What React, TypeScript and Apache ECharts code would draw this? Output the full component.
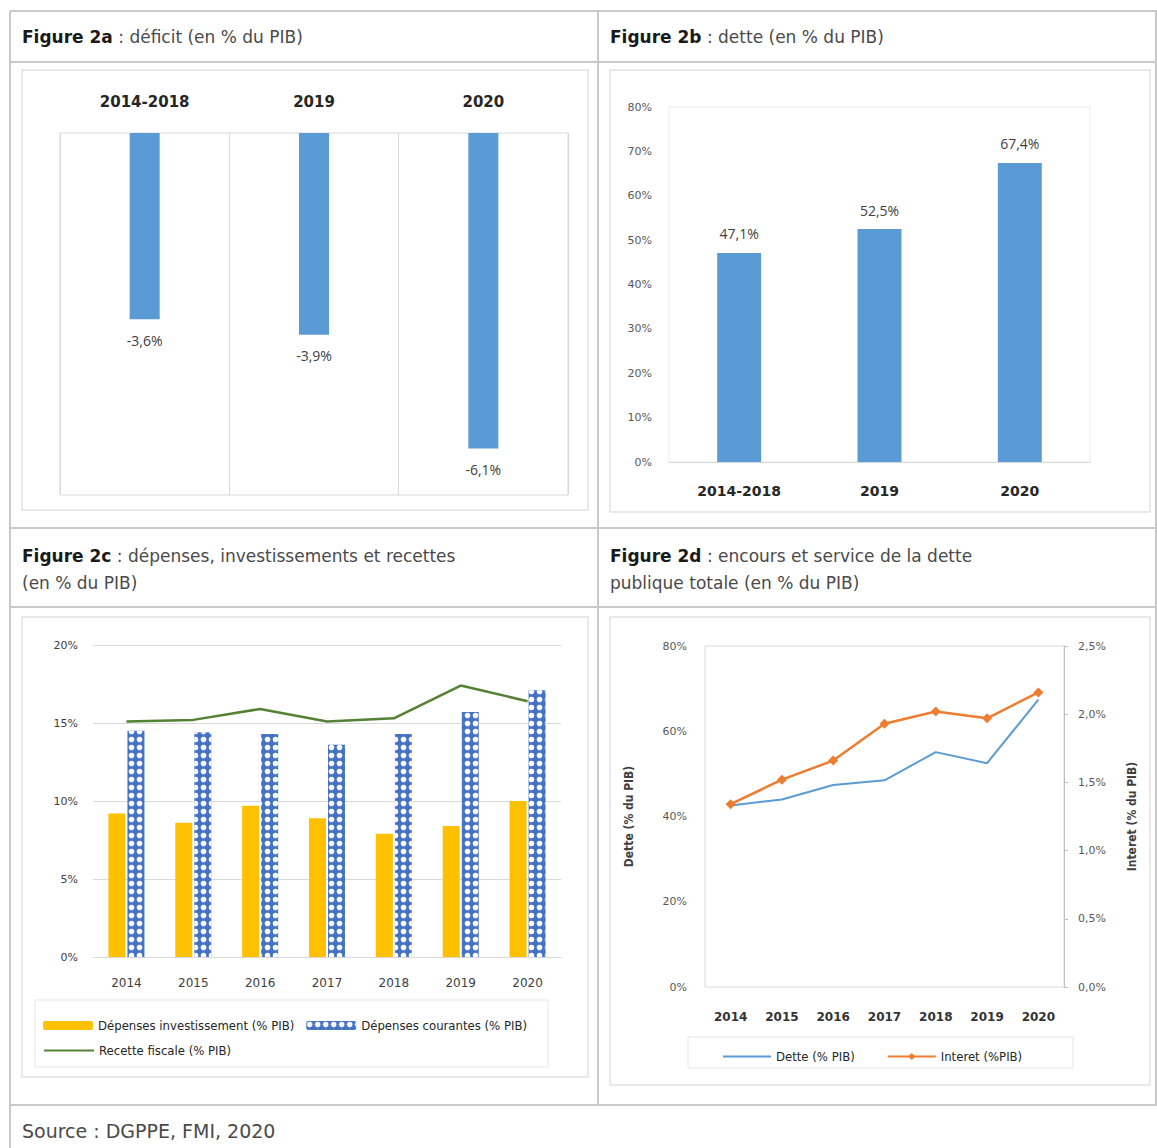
import React, { useEffect, useRef } from "react";
import * as echarts from "echarts";

// ---- Data ----
const deficitCats = ["2014-2018", "2019", "2020"];
const deficitVals = [-3.6, -3.9, -6.1];

const detteCats = ["2014-2018", "2019", "2020"];
const detteVals = [47.1, 52.5, 67.4];

const years = ["2014", "2015", "2016", "2017", "2018", "2019", "2020"];
const depInvest = [9.2, 8.6, 9.7, 8.9, 7.9, 8.4, 10.0];
const depCourantes = [14.5, 14.4, 14.3, 13.6, 14.3, 15.7, 17.1];
const recetteFiscale = [15.1, 15.2, 15.9, 15.1, 15.3, 17.4, 16.4];

const detteSeries = [42.6, 44.0, 47.4, 48.5, 55.1, 52.5, 67.4];
const interetSeries = [1.34, 1.52, 1.66, 1.93, 2.02, 1.97, 2.16];

const yTicks2b = [0, 80, 10];
const yTicks2c = [0, 20, 5];
const yTicks2dL = [0, 80, 20];
const yTicks2dR = [0, 2.5, 0.5];

const SERIES_INV = "Dépenses investissement (% PIB)";
const SERIES_COUR = "Dépenses courantes (% PIB)";
const SERIES_REC = "Recette fiscale (% PIB)";
const SERIES_DETTE = "Dette (% PIB)";
const SERIES_INT = "Interet (%PIB)";

const TITLE_FONT = "'DejaVu Sans', sans-serif";
const NUM_FONT = "'Open Sans', 'Liberation Sans', sans-serif";
const NARROW_FONT = "'Liberation Sans Narrow', 'DejaVu Sans Condensed', 'Liberation Sans', sans-serif";

const comma = (v: number, d: number) => v.toFixed(d).replace(".", ",");

export default function App() {
  const ref = useRef<HTMLDivElement>(null);
  useEffect(() => {
    if (!ref.current) return;
    const chart = echarts.init(ref.current, undefined, { renderer: "svg" });
    const frame = "#c9c9c9";
    const inner = "#e2e2e2";
    const line = (x1: number, y1: number, x2: number, y2: number, c = frame, w = 2) => ({
      type: "line",
      silent: true,
      shape: { x1, y1, x2, y2 },
      style: { stroke: c, lineWidth: w },
    });
    const rect = (x: number, y: number, width: number, height: number, c = inner, w = 1.5) => ({
      type: "rect",
      silent: true,
      shape: { x, y, width, height },
      style: { fill: "none", stroke: c, lineWidth: w },
    });
    const title = (x: number, y: number, bold: string, rest: string) => ({
      type: "text",
      x,
      y,
      style: {
        text: `{b|${bold}}{r|${rest}}`,
        rich: {
          b: { fontFamily: TITLE_FONT, fontWeight: "bold", fontSize: 17, fill: "#1a1a1a" },
          r: { fontFamily: TITLE_FONT, fontSize: 17, fill: "#4a4a4a" },
        },
        verticalAlign: "middle",
      },
    });
    const plainText = (x: number, y: number, text: string, size = 17) => ({
      type: "text",
      x,
      y,
      style: { text, fontFamily: TITLE_FONT, fontSize: size, fill: "#4a4a4a", verticalAlign: "middle" },
    });

    const option: any = {
      animation: false,
      backgroundColor: "#ffffff",
      textStyle: { fontFamily: NUM_FONT },
      grid: [
        { left: 60, top: 133, width: 508, height: 362, show: true, borderColor: "#d9d9d9", borderWidth: 1 },
        { left: 669, top: 107, width: 421, height: 355, show: true, borderColor: "#ececec", borderWidth: 1 },
        { left: 93, top: 645, width: 468, height: 312, show: false },
        { left: 705, top: 646, width: 359, height: 341, show: true, borderColor: "#d9d9d9", borderWidth: 1 },
      ],
      xAxis: [
        {
          type: "category",
          gridIndex: 0,
          position: "top",
          data: deficitCats,
          axisLine: { show: false },
          axisTick: { show: false },
          axisLabel: { fontFamily: TITLE_FONT, fontWeight: "bold", fontSize: 15, color: "#262626", margin: 24 },
          splitLine: { show: true, lineStyle: { color: "#d9d9d9", width: 1 } },
        },
        {
          type: "category",
          gridIndex: 1,
          data: detteCats,
          axisLine: { show: true, lineStyle: { color: "#d9d9d9" } },
          axisTick: { show: false },
          axisLabel: { fontFamily: TITLE_FONT, fontWeight: "bold", fontSize: 14, color: "#262626", margin: 22 },
        },
        {
          type: "category",
          gridIndex: 2,
          data: years,
          axisLine: { show: true, lineStyle: { color: "#d9d9d9" } },
          axisTick: { show: false },
          axisLabel: { fontFamily: TITLE_FONT, fontSize: 12, color: "#404040", margin: 20 },
        },
        {
          type: "category",
          gridIndex: 3,
          data: years,
          axisLine: { show: false },
          axisTick: { show: false },
          axisLabel: { fontFamily: TITLE_FONT, fontWeight: "bold", fontSize: 12, color: "#333333", margin: 24 },
        },
      ],
      yAxis: [
        { type: "value", gridIndex: 0, min: -7, max: 0, show: false },
        {
          type: "value",
          gridIndex: 1,
          min: yTicks2b[0],
          max: yTicks2b[1],
          interval: yTicks2b[2],
          axisLine: { show: false },
          axisTick: { show: false },
          splitLine: { show: false },
          axisLabel: { formatter: "{value}%", fontFamily: TITLE_FONT, fontSize: 11, color: "#595959", margin: 17 },
        },
        {
          type: "value",
          gridIndex: 2,
          min: yTicks2c[0],
          max: yTicks2c[1],
          interval: yTicks2c[2],
          axisLine: { show: false },
          axisTick: { show: false },
          splitLine: { show: true, lineStyle: { color: "#d9d9d9" } },
          axisLabel: { formatter: "{value}%", fontFamily: TITLE_FONT, fontSize: 11, color: "#404040", margin: 15 },
        },
        {
          type: "value",
          gridIndex: 3,
          min: yTicks2dL[0],
          max: yTicks2dL[1],
          interval: yTicks2dL[2],
          axisLine: { show: false },
          axisTick: { show: false },
          splitLine: { show: false },
          axisLabel: { formatter: "{value}%", fontFamily: TITLE_FONT, fontSize: 11, color: "#595959", margin: 18 },
          name: "Dette (% du PIB)",
          nameLocation: "middle",
          nameRotate: 90,
          nameGap: 70,
          nameTextStyle: { fontFamily: NARROW_FONT, fontSize: 12, fontWeight: "bold", color: "#404040" },
        },
        {
          type: "value",
          gridIndex: 3,
          position: "right",
          min: yTicks2dR[0],
          max: yTicks2dR[1],
          interval: yTicks2dR[2],
          axisLine: { show: true, lineStyle: { color: "#bfbfbf" } },
          axisTick: { show: true, length: 4, lineStyle: { color: "#bfbfbf" } },
          splitLine: { show: false },
          axisLabel: {
            formatter: (v: number) => comma(v, 1) + "%",
            fontFamily: TITLE_FONT,
            fontSize: 11,
            color: "#595959",
            margin: 14,
          },
          name: "Interet (% du PIB)",
          nameLocation: "middle",
          nameRotate: 90,
          nameGap: 62,
          nameTextStyle: { fontFamily: NARROW_FONT, fontSize: 12, fontWeight: "bold", color: "#404040" },
        },
      ],
      legend: [
        {
          data: [SERIES_INV, SERIES_COUR],
          left: 38,
          top: 1014,
          itemWidth: 50,
          itemHeight: 9,
          itemGap: 12,
          selectedMode: false,
          textStyle: { fontFamily: NARROW_FONT, fontSize: 13, color: "#262626" },
        },
        {
          data: [SERIES_REC],
          left: 38,
          top: 1039,
          itemWidth: 50,
          itemHeight: 9,
          selectedMode: false,
          textStyle: { fontFamily: NARROW_FONT, fontSize: 13, color: "#262626" },
        },
        {
          data: [SERIES_DETTE, SERIES_INT],
          left: 717,
          top: 1045,
          itemWidth: 48,
          itemHeight: 9,
          itemGap: 32,
          selectedMode: false,
          textStyle: { fontFamily: NARROW_FONT, fontSize: 13, color: "#262626" },
        },
      ],
      series: [
        {
          type: "bar",
          xAxisIndex: 0,
          yAxisIndex: 0,
          data: deficitVals,
          barWidth: 30,
          itemStyle: { color: "#5B9BD5" },
          label: {
            show: true,
            position: "bottom",
            distance: 14,
            fontFamily: NUM_FONT,
            fontSize: 14,
            color: "#404040",
            formatter: (p: any) => comma(p.value, 1) + "%",
          },
        },
        {
          type: "bar",
          xAxisIndex: 1,
          yAxisIndex: 1,
          data: detteVals,
          barWidth: 44,
          itemStyle: { color: "#5B9BD5" },
          label: {
            show: true,
            position: "top",
            distance: 12,
            fontFamily: NUM_FONT,
            fontSize: 14,
            color: "#404040",
            formatter: (p: any) => comma(p.value, 1) + "%",
          },
        },
        {
          name: SERIES_INV,
          type: "bar",
          xAxisIndex: 2,
          yAxisIndex: 2,
          data: depInvest,
          barWidth: 17,
          barGap: "12%",
          itemStyle: { color: "#FFC000" },
        },
        {
          name: SERIES_COUR,
          type: "bar",
          xAxisIndex: 2,
          yAxisIndex: 2,
          data: depCourantes,
          barWidth: 17,
          barGap: "12%",
          itemStyle: {
            color: "#4472C4",
            decal: {
              symbol: "circle",
              symbolSize: 0.8,
              color: "#ffffff",
              dashArrayX: [7, 1],
              dashArrayY: [7, 1],
              rotation: 0,
            },
          },
        },
        {
          name: SERIES_REC,
          type: "line",
          xAxisIndex: 2,
          yAxisIndex: 2,
          data: recetteFiscale,
          symbol: "none",
          lineStyle: { color: "#548235", width: 2.5 },
          itemStyle: { color: "transparent" },
        },
        {
          name: SERIES_DETTE,
          type: "line",
          xAxisIndex: 3,
          yAxisIndex: 3,
          data: detteSeries,
          symbol: "none",
          lineStyle: { color: "#5B9BD5", width: 2 },
          itemStyle: { color: "transparent" },
        },
        {
          name: SERIES_INT,
          type: "line",
          xAxisIndex: 3,
          yAxisIndex: 4,
          data: interetSeries,
          symbol: "diamond",
          symbolSize: 10,
          lineStyle: { color: "#ED7D31", width: 2.5 },
          itemStyle: { color: "#ED7D31" },
        },
      ],
      graphic: [
        // outer frame
        line(10, 11, 1157, 11),
        line(10, 11, 10, 1148),
        line(10, 62, 1157, 62),
        line(10, 528, 1157, 528),
        line(10, 607, 1157, 607),
        line(10, 1105, 1157, 1105),
        line(598, 11, 598, 1105),
        line(1156, 11, 1156, 1105),
        // inner frames
        rect(22, 70, 566, 440),
        rect(610, 70, 540, 442),
        rect(22, 617, 566, 460),
        rect(610, 617, 540, 468),
        // legend boxes
        rect(35, 1000, 513, 67, "#e6e6e6", 1),
        rect(688, 1037, 385, 31, "#e6e6e6", 1),
        // titles
        title(22, 37, "Figure 2a", " : déficit (en % du PIB)"),
        title(610, 37, "Figure 2b", " : dette (en % du PIB)"),
        title(22, 556, "Figure 2c", " : dépenses, investissements et recettes"),
        plainText(22, 583, "(en % du PIB)"),
        title(610, 556, "Figure 2d", " : encours et service de la dette"),
        plainText(610, 583, "publique totale (en % du PIB)"),
        plainText(22, 1131, "Source : DGPPE, FMI, 2020", 19),
      ],
    };
    chart.setOption(option);
    return () => chart.dispose();
  }, []);
  return (
    <div
      ref={ref}
      style={{ position: "absolute", left: 0, top: 0, width: 1157, height: 1148, background: "#fff" }}
    />
  );
}
